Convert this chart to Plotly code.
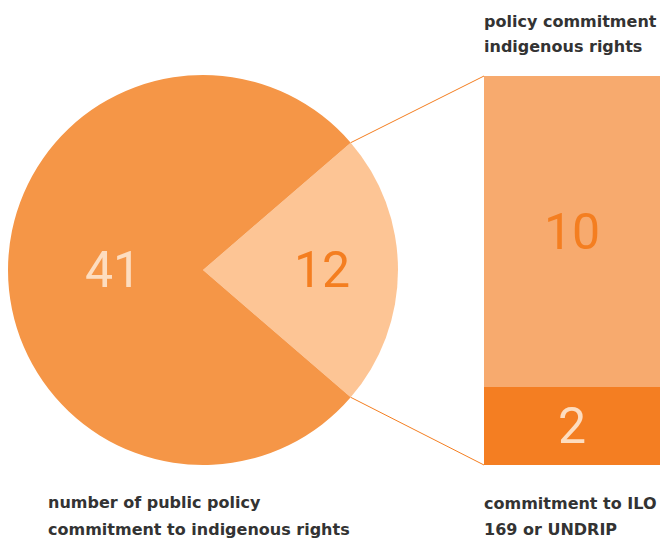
import math
import plotly.graph_objects as go

# ---- data ----
pie_labels = ["policy commitment indigenous rights", "other public policy commitments"]
pie_values = [12, 41]
bar_labels = ["commitment to ILO 169 or UNDRIP", "policy commitment indigenous rights"]
bar_values = [2, 10]
bar_axis_max = 10
label_left = ["number of public policy", "commitment to indigenous rights"]
label_top = ["policy commitment", "indigenous rights"]
label_bottom = ["commitment to ILO", "169 or UNDRIP"]

W, H = 660, 541
# pie geometry (window pixels)
cx, cy, R = 203, 270, 195
# bar geometry (window pixels)
bx0, bx1, by_top, by_bot = 484, 660, 76, 465

c_main = "#F59647"
c_slice = "#FDC595"
c_bar_top = "#F7AA6E"
c_bar_bot = "#F47E22"
c_orange_txt = "#F47E20"
c_light_txt = "#FDDDC0"
c_dark = "#333333"
NUMFONT = "Roboto"
LBLFONT = "DejaVu Sans"

total = sum(pie_values)
slice_deg = 360 * pie_values[0] / total
half = slice_deg / 2


def px(x):
    return x / W


def py(y):
    return (H - y) / H


fig = go.Figure()
fig.add_trace(go.Pie(
    labels=pie_labels, values=pie_values, sort=False, direction="clockwise",
    rotation=90 - half, textinfo="none", hoverinfo="label+value",
    marker=dict(colors=[c_slice, c_main], line=dict(width=0)),
    domain=dict(x=[px(cx - R), px(cx + R)], y=[py(cy + R), py(cy - R)]),
    showlegend=False,
))

fig.add_trace(go.Bar(x=[0], y=[bar_values[0]], marker=dict(color=c_bar_bot, line=dict(width=0)),
                     name=bar_labels[0], xaxis="x", yaxis="y", showlegend=False,
                     text=[str(bar_values[0])], textposition="inside", insidetextanchor="middle",
                     textfont=dict(family=NUMFONT, size=50, color=c_light_txt)))
fig.add_trace(go.Bar(x=[0], y=[bar_values[1]], marker=dict(color=c_bar_top, line=dict(width=0)),
                     name=bar_labels[1], xaxis="x", yaxis="y", showlegend=False))

# connector lines from slice edges to bar corners
a = math.radians(half)
ex = cx + R * math.cos(a)
ey_top = cy - R * math.sin(a)
ey_bot = cy + R * math.sin(a)
shapes = [
    dict(type="line", xref="paper", yref="paper", x0=px(ex), y0=py(ey_top), x1=px(bx0), y1=py(by_top),
         line=dict(color=c_orange_txt, width=1)),
    dict(type="line", xref="paper", yref="paper", x0=px(ex), y0=py(ey_bot), x1=px(bx0), y1=py(by_bot),
         line=dict(color=c_orange_txt, width=1)),
]

annotations = [
    dict(text=str(pie_values[1]), x=px(cx - 0.46 * R), y=py(cy), xref="paper", yref="paper",
         showarrow=False, font=dict(family=NUMFONT, size=50, color=c_light_txt), xanchor="center", yanchor="middle"),
    dict(text=str(pie_values[0]), x=px(cx + 0.61 * R), y=py(cy), xref="paper", yref="paper",
         showarrow=False, font=dict(family=NUMFONT, size=50, color=c_orange_txt), xanchor="center", yanchor="middle"),
    dict(text=str(bar_values[1]), x=0, y=(bar_values[0] + bar_axis_max) / 2, xref="x", yref="y",
         showarrow=False, font=dict(family=NUMFONT, size=50, color=c_orange_txt), xanchor="center", yanchor="middle"),
]


def add_label(lines, x, baselines):
    for t, b in zip(lines, baselines):
        annotations.append(dict(text=t, x=px(x), y=py(b - 6), xref="paper", yref="paper",
                                showarrow=False, xanchor="left", yanchor="middle",
                                font=dict(family=LBLFONT, size=16, color=c_dark, weight="bold")))


add_label(label_left, 46, [508, 535])
add_label(label_top, 482, [27, 53])
add_label(label_bottom, 482, [509, 535])

fig.update_layout(
    width=W, height=H, margin=dict(l=0, r=0, t=0, b=0),
    paper_bgcolor="white", plot_bgcolor="rgba(0,0,0,0)",
    barmode="stack", bargap=0,
    xaxis=dict(domain=[px(bx0), px(bx1)], range=[-0.5, 0.5], visible=False, fixedrange=True),
    yaxis=dict(domain=[py(by_bot), py(by_top)], range=[0, bar_axis_max], visible=False, fixedrange=True),
    shapes=shapes, annotations=annotations,
)

fig.write_html("out.html", config={"displayModeBar": False},
               post_script="document.body.style.margin='0';")
